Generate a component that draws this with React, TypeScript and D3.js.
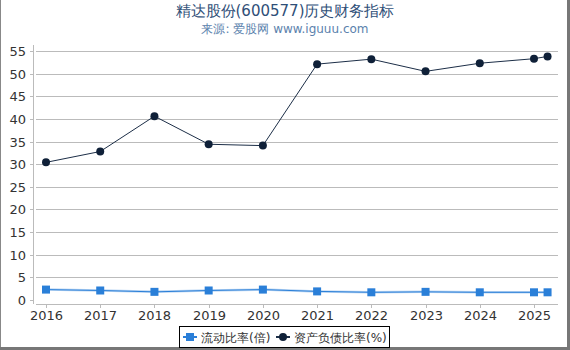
import React, { useEffect, useRef } from 'react';
import * as d3 from 'd3';

// 年份 (最后一点为2025年一季度)
const years = [2016, 2017, 2018, 2019, 2020, 2021, 2022, 2023, 2024, 2025, 2025.25];
const tickYears = [2016, 2017, 2018, 2019, 2020, 2021, 2022, 2023, 2024, 2025];
const currentRatio = [2.3, 2.1, 1.8, 2.1, 2.3, 1.9, 1.7, 1.8, 1.7, 1.7, 1.7];
const debtRatio = [30.4, 32.8, 40.6, 34.4, 34.1, 52.1, 53.2, 50.5, 52.3, 53.3, 53.8];
const yTicks = [0, 5, 10, 15, 20, 25, 30, 35, 40, 45, 50, 55];

const FONT = '"DejaVu Sans", sans-serif';

export default function App() {
  const ref = useRef<SVGSVGElement>(null);

  useEffect(() => {
    const svg = d3.select(ref.current);
    svg.selectAll('*').remove();

    const width = 570, height = 350;
    const x = d3.scaleLinear().domain([2016, 2025]).range([46, 534]);
    const y = d3.scaleLinear().domain([0, 55]).range([300, 51]);
    const left = 36, right = 558;

    svg.append('rect').attr('width', width).attr('height', height).attr('fill', '#fff');

    // 外框阴影
    svg.append('line').attr('x1', 0.5).attr('y1', 0).attr('x2', 0.5).attr('y2', height)
      .style('stroke', '#888').style('stroke-width', 1);
    svg.append('line').attr('x1', 568.5).attr('y1', 0).attr('x2', 568.5).attr('y2', height)
      .style('stroke', '#777').style('stroke-width', 3);
    svg.append('line').attr('x1', 0).attr('y1', 348.5).attr('x2', width).attr('y2', 348.5)
      .style('stroke', '#777').style('stroke-width', 3);

    // 标题
    svg.append('text').attr('x', 285).attr('y', 16).attr('text-anchor', 'middle')
      .style('font-family', FONT).style('font-size', '15px').style('fill', '#2f4f78')
      .text('精达股份(600577)历史财务指标');
    svg.append('text').attr('x', 285).attr('y', 33).attr('text-anchor', 'middle')
      .style('font-family', FONT).style('font-size', '12px').style('fill', '#5b82ad')
      .text('来源: 爱股网 www.iguuu.com');

    // 网格线
    yTicks.forEach(t => {
      if (t === 0) return;
      svg.append('line')
        .attr('x1', left).attr('y1', Math.round(y(t)) + 0.5)
        .attr('x2', right).attr('y2', Math.round(y(t)) + 0.5)
        .style('stroke', '#bbb').style('stroke-width', 1);
    });

    // y轴
    svg.append('line').attr('x1', 33.5).attr('y1', 45).attr('x2', 33.5).attr('y2', 304)
      .style('stroke', '#bbb');
    yTicks.forEach(t => {
      const yy = Math.round(y(t)) + 0.5;
      svg.append('line').attr('x1', 30).attr('y1', yy).attr('x2', 33).attr('y2', yy)
        .style('stroke', '#bbb');
      svg.append('text').attr('x', 26).attr('y', yy + 4.5).attr('text-anchor', 'end')
        .style('font-family', FONT).style('font-size', '13px').style('fill', '#333')
        .text(t);
    });

    // x轴
    svg.append('line').attr('x1', left).attr('y1', 304.5).attr('x2', right).attr('y2', 304.5)
      .style('stroke', '#bbb');
    tickYears.forEach(t => {
      const xx = Math.round(x(t)) + 0.5;
      svg.append('line').attr('x1', xx).attr('y1', 305).attr('x2', xx).attr('y2', 308)
        .style('stroke', '#bbb');
      svg.append('text').attr('x', xx).attr('y', 320).attr('text-anchor', 'middle')
        .style('font-family', FONT).style('font-size', '13px').style('fill', '#333')
        .text(t);
    });

    const line = d3.line<number>().x((d, i) => x(years[i])).y(d => y(d));

    // 流动比率
    svg.append('path').attr('d', line(currentRatio)).attr('fill', 'none')
      .style('stroke', '#b9d5f3').style('stroke-width', 2.5);
    svg.append('path').attr('d', line(currentRatio)).attr('fill', 'none')
      .style('stroke', '#2a7fd8').style('stroke-width', 1);
    currentRatio.forEach((d, i) => {
      svg.append('rect').attr('x', x(years[i]) - 4).attr('y', y(d) - 4)
        .attr('width', 8).attr('height', 8).attr('fill', '#2a7fd8');
    });

    // 资产负债比率
    svg.append('path').attr('d', line(debtRatio)).attr('fill', 'none')
      .style('stroke', '#1c2e47').style('stroke-width', 1);
    debtRatio.forEach((d, i) => {
      svg.append('circle').attr('cx', x(years[i])).attr('cy', y(d)).attr('r', 4)
        .attr('fill', '#0f2038');
    });

    // 图例
    const lg = svg.append('g');
    lg.append('rect').attr('x', 179.5).attr('y', 326.5).attr('width', 210).attr('height', 21)
      .attr('fill', '#fff').style('stroke', '#000').style('stroke-width', 1);
    lg.append('line').attr('x1', 183).attr('y1', 337).attr('x2', 197).attr('y2', 337)
      .style('stroke', '#2a7fd8').style('stroke-width', 2);
    lg.append('rect').attr('x', 186).attr('y', 333).attr('width', 8).attr('height', 8).attr('fill', '#2a7fd8');
    lg.append('text').attr('x', 201).attr('y', 341.5)
      .style('font-family', FONT).style('font-size', '12px').style('fill', '#333')
      .text('流动比率(倍)');
    lg.append('line').attr('x1', 276).attr('y1', 337).attr('x2', 290).attr('y2', 337)
      .style('stroke', '#1c2e47').style('stroke-width', 2);
    lg.append('circle').attr('cx', 283).attr('cy', 337).attr('r', 4).attr('fill', '#0f2038');
    lg.append('text').attr('x', 294).attr('y', 341.5)
      .style('font-family', FONT).style('font-size', '12px').style('fill', '#333')
      .text('资产负债比率(%)');
  }, []);

  return (
    <div style={{ position: 'absolute', left: 0, top: 0 }}>
      <svg ref={ref} width={570} height={350} style={{ display: 'block' }}></svg>
    </div>
  );
}
